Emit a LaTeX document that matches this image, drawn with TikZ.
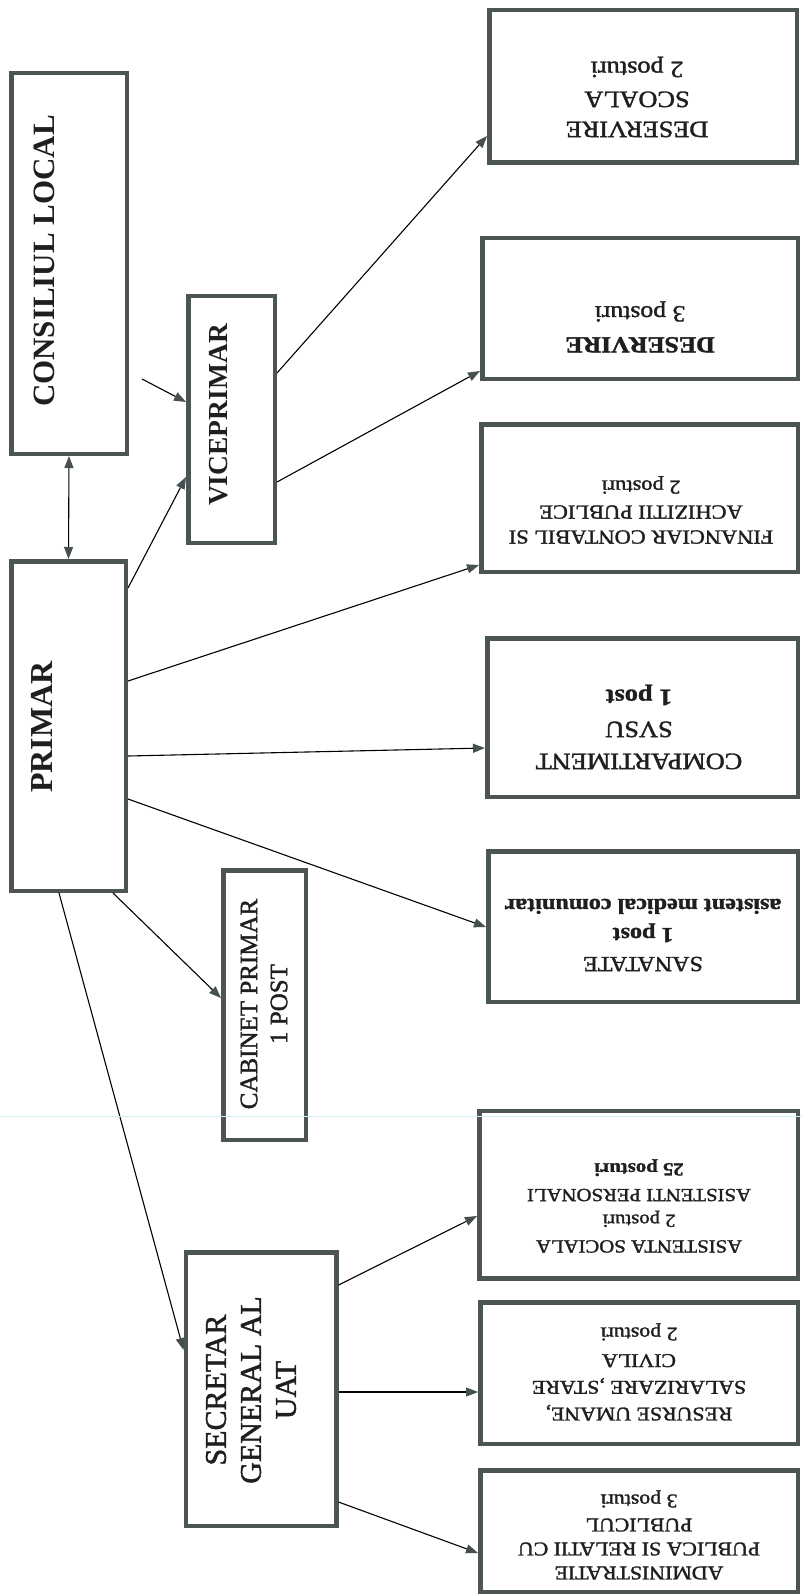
\documentclass[tikz,border=0pt]{standalone}
\usepackage{fontspec}
\setmainfont{Liberation Serif}
\newfontfamily\scanfont{Liberation Serif}[FakeBold=1.5]
\usetikzlibrary{arrows.meta}
\definecolor{boxgray}{RGB}{77,85,84}
\definecolor{tipgray}{RGB}{70,80,80}
\definecolor{inkgray}{RGB}{30,32,32}
\definecolor{scancyan}{RGB}{205,240,245}
\newcommand{\bx}[5]{\node[box, minimum width=#4pt, minimum height=#5pt] (#1) at (#2,#3) {};}
\begin{document}
\begin{tikzpicture}[x=1pt,y=-1pt,
  box/.style={draw=boxgray, line width=4.5pt, fill=white, inner sep=0pt, rectangle},
  ltext/.style={rotate=90, align=center, inner sep=0pt, text=inkgray},
  rtext/.style={rotate=180, xscale=1.12, align=center, inner sep=0pt, text=inkgray},
  tip/.tip={Triangle[length=12pt,width=9pt,color=tipgray]},
  arr/.style={line width=1.1pt, -tip},
  darr/.style={line width=1.1pt, tip-tip}]
\useasboundingbox (0,0) rectangle (802,1594);
\fill[white] (0,0) rectangle (802,1594);
% boxes
\bx{cons}{69}{263.5}{115.5}{380.5}
\bx{primar}{68.5}{726}{114.5}{329.5}
\bx{vice}{231.5}{419.5}{86.5}{246.5}
\bx{cab}{264.5}{1005}{82.5}{269.5}
\bx{sec}{261}{1389}{150.5}{273.5}
\bx{ds}{643}{86.5}{307.5}{152.5}
\bx{d}{640}{308.5}{315.5}{140.5}
\bx{fin}{639.5}{498}{316.5}{147.5}
\bx{comp}{642.5}{717.5}{310.5}{158.5}
\bx{san}{643}{926.5}{309.5}{150.5}
\bx{asis}{638.5}{1194.5}{318.5}{167.5}
\bx{res}{639}{1373}{317.5}{141.5}
\bx{adm}{639}{1531}{317.5}{121.5}
% left texts
\node[ltext, font=\bfseries\fontsize{31}{36}\selectfont] (tcons) at (44,261) {CONSILIUL LOCAL};
\node[ltext, font=\bfseries\fontsize{32}{36}\selectfont] (tprimar) at (42,727) {PRIMAR};
\node[ltext, font=\bfseries\fontsize{27.5}{34}\selectfont] (tvice) at (219,415) {VICEPRIMAR};
\node[ltext, font=\scanfont\fontsize{25}{30}\selectfont] (tcab) at (264,1004) {CABINET PRIMAR\\1 POST};
\node[ltext, font=\scanfont\fontsize{30}{35}\selectfont] (tsec) at (251,1390) {SECRETAR\\GENERAL AL\\UAT};
% right texts
\node[rtext, font=\scanfont\fontsize{23.5}{30}\selectfont] (tds) at (637,97) {DESERVIRE\\SCOALA\\2 posturi};
\node[rtext, font=\scanfont\fontsize{23}{31}\selectfont] (td) at (640,327) {\textbf{DESERVIRE}\\3 posturi};
\node[rtext, font=\scanfont\fontsize{20}{25}\selectfont] (tfin) at (641,510) {FINANCIAR CONTABIL SI\\ACHIZITII PUBLICE\\2 posturi};
\node[rtext, font=\scanfont\fontsize{23.5}{32}\selectfont] (tcomp) at (639,727) {COMPARTIMENT\\SVSU\\\textbf{1 post}};
\node[rtext, font=\scanfont\fontsize{21.5}{29}\selectfont] (tsan) at (643,935) {SANATATE\\\textbf{1 post}\\\textbf{asistent medical comunitar}};
\node[rtext, font=\scanfont\fontsize{18.5}{25.7}\selectfont] (tasis) at (639,1206) {ASISTENTA SOCIALA\\2 posturi\\ASISTENTI PERSONALI\\\textbf{25 posturi}};
\node[rtext, font=\scanfont\fontsize{19.5}{26.7}\selectfont] (tres) at (639,1372) {RESURSE UMANE,\\SALARIZARE ,STARE\\CIVILA\\2 posturi};
\node[rtext, font=\scanfont\fontsize{19.5}{24}\selectfont] (tadm) at (639,1535) {ADMINISTRATIE\\PUBLICA SI RELATII CU\\PUBLICUL\\3 posturi};
% connectors
\coordinate (cl) at (142,379);
\draw[darr] (cons.south) -- (primar.north);
\draw[arr] (cl) -- (vice.west |- 0,402);
\draw[arr] (primar.east |- 0,588) -- (vice.west |- 0,477);
\draw[arr] (vice.east |- 0,373) -- (ds.west |- 0,136);
\draw[arr] (vice.east |- 0,482) -- (d.west |- 0,371);
\draw[arr] (primar.east |- 0,681) -- (fin.west |- 0,565);
\draw[arr] (primar.east |- 0,756) -- (comp.west |- 0,748);
\draw[arr] (primar.east |- 0,799) -- (san.west |- 0,927);
\draw[arr] (primar.south -| 113,0) -- (cab.west |- 0,998);
\draw[arr] (primar.south -| 59,0) -- (sec.west |- 0,1350);
\draw[arr] (sec.east |- 0,1285) -- (asis.west |- 0,1216);
\draw[arr] (sec.east |- 0,1392) -- (res.west |- 0,1392);
\draw[arr] (sec.east |- 0,1502) -- (adm.west |- 0,1553);
% faint scan line
\draw[scancyan, line width=1pt] (0,1116) -- (802,1116);
\end{tikzpicture}
\end{document}
